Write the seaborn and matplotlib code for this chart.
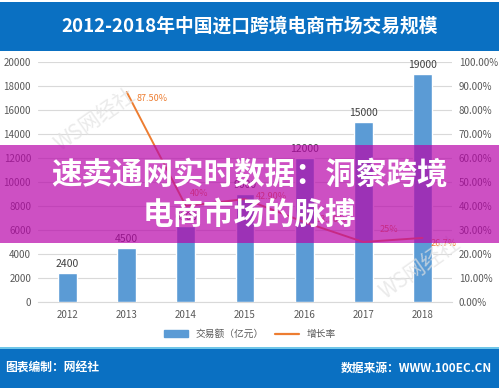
import numpy as np
import pandas as pd
import matplotlib
matplotlib.use("Agg")
import matplotlib.pyplot as plt
import seaborn as sns
from matplotlib.patches import Rectangle, Patch
from matplotlib.lines import Line2D

# 数据
years = ['2012', '2013', '2014', '2015', '2016', '2017', '2018']
amount = [2400, 4500, 6300, 9000, 12000, 15000, 19000]
rate_years = ['2013', '2014', '2015', '2016', '2017', '2018']
rate = [87.5, 40.0, 42.9, 33.3, 25.0, 26.7]
rate_labels = ['87.50%', '40%', '42.90%', '33.30%', '25%', '26.7%']

sns.set_style("white")
plt.rcParams['font.family'] = ['Noto Sans CJK SC', 'DejaVu Sans']

W, H = 499, 389
fig = plt.figure(figsize=(W / 100, H / 100), dpi=100)
fig.patch.set_facecolor('white')

def fx(px):
    return px / W

def fy(py):
    return 1 - py / H

ax = fig.add_axes([fx(38), fy(302), fx(452) - fx(38), fy(62) - fy(302)])

df = pd.DataFrame({'year': years, 'amount': amount})
sns.barplot(data=df, x='year', y='amount', color='#5b9bd5', width=0.32,
            saturation=1, ax=ax, zorder=3)
ax.bar_label(ax.containers[0], padding=3, fontsize=7.5, color='#404040')

ax.set_ylim(0, 20000)
ax.set_xlim(-0.5, 6.5)
ax.set_yticks(range(0, 20001, 2000))
ax.grid(axis='y', color='#d9d9d9', linewidth=0.8, zorder=0)
ax.set_axisbelow(True)
ax.set_xlabel('')
ax.set_ylabel('')
for s in ['top', 'left', 'right']:
    ax.spines[s].set_visible(False)
ax.spines['bottom'].set_color('#d9d9d9')
ax.tick_params(axis='both', length=0, labelsize=7, labelcolor='#595959')
ax.tick_params(axis='x', pad=6)
ax.tick_params(axis='y', pad=5)

# 增长率折线
ax2 = ax.twinx()
pos = [years.index(y) for y in rate_years]
rdf = pd.DataFrame({'pos': pos, 'rate': rate})
sns.lineplot(data=rdf, x='pos', y='rate', color='#ed7d31', linewidth=1.4, ax=ax2)
ax2.set_ylim(0, 100)
ax2.set_yticks(range(0, 101, 10))
ax2.set_yticklabels([f'{v:.2f}%' for v in range(0, 101, 10)])
ax2.set_ylabel('')
for s in ax2.spines.values():
    s.set_visible(False)
ax2.tick_params(axis='y', length=0, labelsize=7, labelcolor='#595959', pad=5)

offsets = [(7, -5), (3, 9), (8, 2), (8, 2), (12, 9), (6, -4)]
for p, r, lab, off in zip(pos, rate, rate_labels, offsets):
    ax2.annotate(lab, (p, r), xytext=off, textcoords='offset points',
                 fontsize=6.5, color='#ed7d31', ha='left', va='center')

# 图例
handles = [Patch(color='#5b9bd5', label='交易额（亿元）'),
           Line2D([0], [0], color='#ed7d31', linewidth=1.6, label='增长率')]
fig.legend(handles=handles, loc='center', bbox_to_anchor=(fx(250), fy(334)),
           ncol=2, frameon=False, fontsize=7, handlelength=2.4,
           handleheight=0.6, columnspacing=1.2, labelcolor='#595959')

# 水印
for (x, y) in [(95, 120), (420, 268)]:
    fig.text(fx(x), fy(y), 'WS网经社', fontsize=15, color='#e2e2e2',
             rotation=35, ha='center', va='center', zorder=1, alpha=0.7)

# 顶部标题栏
fig.add_artist(Rectangle((0, fy(51)), 1, fy(2) - fy(51), transform=fig.transFigure,
                         facecolor='#0a70c2', edgecolor='none', zorder=2))
fig.text(0.5, fy(26), '2012-2018年中国进口跨境电商市场交易规模', color='white',
         fontsize=13.5, fontweight='bold', ha='center', va='center', zorder=3)

# 底部栏
fig.add_artist(Rectangle((0, fy(349)), 1, fy(347) - fy(349), transform=fig.transFigure,
                         facecolor='#6fc6e8', edgecolor='none', zorder=2))
fig.add_artist(Rectangle((0, fy(388)), 1, fy(349) - fy(388), transform=fig.transFigure,
                         facecolor='#0a70c2', edgecolor='none', zorder=2))
fig.text(fx(5), fy(368), '图表编制：网经社', color='white', fontsize=8.5,
         fontweight='bold', ha='left', va='center', zorder=3)
fig.text(fx(492), fy(368), '数据来源：WWW.100EC.CN', color='white', fontsize=8.5,
         fontweight='bold', ha='right', va='center', zorder=3)

# 覆盖横幅
fig.add_artist(Rectangle((0, fy(243)), 1, fy(145) - fy(243), transform=fig.transFigure,
                         facecolor=(184 / 255, 6 / 255, 170 / 255), alpha=0.7,
                         edgecolor='none', zorder=5))
fig.text(0.5, fy(174), '速卖通网实时数据：洞察跨境', color='white', fontsize=22,
         fontweight='bold', ha='center', va='center', zorder=6)
fig.text(0.5, fy(215), '电商市场的脉搏', color='white', fontsize=22,
         fontweight='bold', ha='center', va='center', zorder=6)

fig.savefig('out.png', dpi=100)
